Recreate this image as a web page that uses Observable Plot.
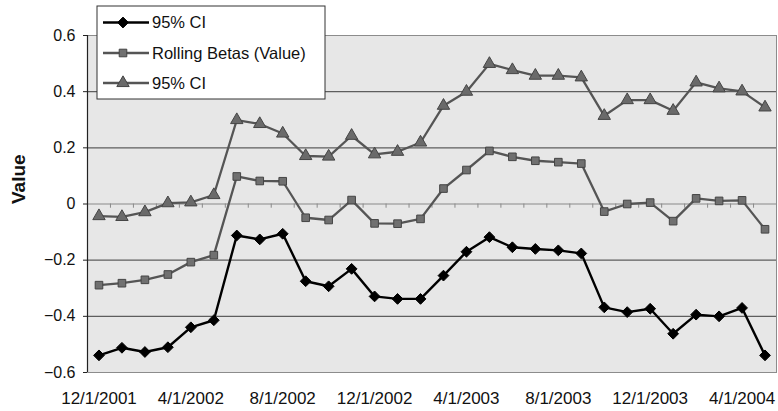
<!DOCTYPE html>
<html><head><meta charset="utf-8">
<script src="https://cdn.jsdelivr.net/npm/d3@7"></script>
<script src="https://cdn.jsdelivr.net/npm/@observablehq/plot@0.6"></script>
<style>
body{margin:0;background:#fff;font-family:"Liberation Sans",Arial,sans-serif;}
#wrap{position:relative;width:778px;height:411px;}
#wrap > svg{position:absolute;left:0;top:0;}
</style></head><body><div id="wrap"></div>
<script>
const dates = ["12/1/2001","1/1/2002","2/1/2002","3/1/2002","4/1/2002","5/1/2002","6/1/2002","7/1/2002","8/1/2002","9/1/2002","10/1/2002","11/1/2002","12/1/2002","1/1/2003","2/1/2003","3/1/2003","4/1/2003","5/1/2003","6/1/2003","7/1/2003","8/1/2003","9/1/2003","10/1/2003","11/1/2003","12/1/2003","1/1/2004","2/1/2004","3/1/2004","4/1/2004","5/1/2004"];
const tickLabels = ["12/1/2001","4/1/2002","8/1/2002","12/1/2002","4/1/2003","8/1/2003","12/1/2003","4/1/2004"];
const yTicks = [-0.6,-0.4,-0.2,0,0.2,0.4,0.6];
const gridValues = [-0.4,-0.2,0.2,0.4];
const seriesNames = ["95% CI","Rolling Betas (Value)","95% CI"];
const lowerCI = [-0.539,-0.512,-0.527,-0.510,-0.439,-0.414,-0.112,-0.126,-0.106,-0.275,-0.293,-0.231,-0.329,-0.338,-0.338,-0.255,-0.170,-0.118,-0.154,-0.160,-0.165,-0.176,-0.368,-0.385,-0.373,-0.462,-0.394,-0.400,-0.370,-0.539];
const rollingBeta = [-0.289,-0.282,-0.270,-0.251,-0.207,-0.182,0.098,0.082,0.081,-0.049,-0.057,0.014,-0.069,-0.070,-0.053,0.055,0.121,0.189,0.168,0.154,0.149,0.144,-0.027,0.000,0.005,-0.061,0.020,0.011,0.013,-0.090];
const upperCI = [-0.043,-0.046,-0.029,0.003,0.006,0.032,0.299,0.285,0.251,0.171,0.169,0.243,0.177,0.186,0.219,0.350,0.400,0.499,0.477,0.457,0.457,0.451,0.314,0.370,0.370,0.332,0.433,0.412,0.401,0.344];

// Excel-style diamond (rotated square)
const excelDiamond = {draw(ctx,size){const r=Math.sqrt(size/2); ctx.moveTo(0,-r); ctx.lineTo(r,0); ctx.lineTo(0,r); ctx.lineTo(-r,0); ctx.closePath();}};
const seriesValues = [lowerCI, rollingBeta, upperCI];
const styles = [
  {stroke:"#000", fill:"#000", symbol:excelDiamond, r:4.3, sw:2.4, mstroke:"#000"},
  {stroke:"#555", fill:"#707070", symbol:d3.symbolSquare, r:4.3, sw:2.3, mstroke:"#444"},
  {stroke:"#555", fill:"#6a6a6a", symbol:d3.symbolTriangle, r:4.6, sw:2.3, mstroke:"#444"}
];
const W=778,H=411,mL=87,mR=2,mT=35,mB=39;
const step=(W-mL-mR)/dates.length;
const font='"Liberation Sans", Arial, sans-serif';
const fmt = d => d===0 ? "0" : d.toFixed(1).replace("-","\u2212");

const seriesMarks = seriesValues.flatMap((vals,s)=>{
  const rows = vals.map((v,i)=>({date:dates[i], value:v}));
  const st = styles[s];
  return [
    Plot.line(rows,{x:"date",y:"value",stroke:st.stroke,strokeWidth:st.sw}),
    Plot.dot(rows,{x:"date",y:"value",symbol:st.symbol,r:st.r,fill:st.fill,stroke:st.mstroke,strokeWidth:1})
  ];
});

const chart = Plot.plot({
  width:W,height:H,marginLeft:mL,marginRight:mR,marginTop:mT,marginBottom:mB,
  style:{fontFamily:font,background:"transparent",color:"#111"},
  x:{type:"point",domain:dates,padding:0.5,round:false,axis:null},
  y:{domain:[-0.6,0.6],axis:null},
  marks:[
    Plot.frame({fill:"#e7e7e7",stroke:"#8c8c8c"}),
    Plot.ruleY(gridValues,{stroke:"#5e5e5e",strokeWidth:1.1}),
    Plot.ruleY([0],{stroke:"#8a8a8a",strokeWidth:1.2}),
    Plot.ruleX(dates,{x:d=>d,y1:0,y2:-0.015,dx:step/2,stroke:"#8a8a8a"}),
    Plot.ruleX([dates[0]],{x:d=>d,dx:-step/2,stroke:"#222",strokeWidth:1.2}),
    Plot.axisY(yTicks,{tickSize:4,tickPadding:8,fontSize:16,tickFormat:fmt,label:null,stroke:"#222"}),
    Plot.axisX(tickLabels,{tickSize:0,tickPadding:19,fontSize:17,label:null}),
    Plot.text(["Value"],{frameAnchor:"left",dx:-69,rotate:-90,fontWeight:"bold",fontSize:19,fill:"#111"}),
    ...seriesMarks
  ]
});
document.getElementById("wrap").append(chart);

// Legend (overlapping the plot, as in the reference)
const lg = d3.select("#wrap").append("svg")
  .attr("width",231).attr("height",96)
  .style("left","96px").style("top","5px");
lg.append("rect").attr("x",1).attr("y",1).attr("width",228).attr("height",93)
  .attr("fill","#fff").attr("stroke","#333").attr("stroke-width",1);
const rowY=[17.5,48,78];
seriesNames.forEach((name,i)=>{
  const st=styles[i], y=rowY[i];
  lg.append("line").attr("x1",7).attr("x2",53).attr("y1",y).attr("y2",y)
    .attr("stroke",st.stroke).attr("stroke-width",st.sw);
  lg.append("path").attr("d",d3.symbol(st.symbol,Math.PI*st.r*st.r)())
    .attr("transform",`translate(27,${y})`).attr("fill",st.fill).attr("stroke",st.mstroke);
  lg.append("text").attr("x",56).attr("y",y).attr("dy","0.36em")
    .attr("font-family",font).attr("font-size",16.5).attr("fill","#111").text(name);
});
</script></body></html>
